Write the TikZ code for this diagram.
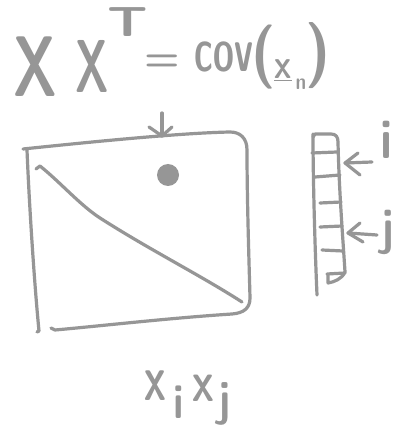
\documentclass[tikz,border=0pt]{standalone}
\usepackage{fontspec}
\newfontfamily\hand{lmsansdemicond10-regular.otf}
\definecolor{ink}{RGB}{150,150,150}
\tikzset{
  pen/.style={draw=ink, line width=3.2pt, line cap=round, line join=round},
  hw/.style={text=ink, inner sep=0pt, font=\hand\fontsize{#1}{#1}\selectfont}
}
\begin{document}
\begin{tikzpicture}[x=1pt,y=-1pt]
\useasboundingbox (0,0) rectangle (405,427);
\fill[white] (0,0) rectangle (405,427);

% title: XX^T = cov(x_n)
\node[hw=86, xscale=.8] (X1) at (35,67) {X};
\node[hw=75, xscale=.7] (X2) at (92,66) {X};
\node[hw=42, xscale=1.5] (T) at (128,22) {T};
\node[hw=40, xscale=1.2] (eq) at (162,63) {=};
\node[hw=61, xscale=.72] (cov) at (224,57) {cov};
\node[hw=66] (lp) at (264,57) {(};
\node[hw=40] (xv) at (283,70) {\underline{x}};
\node[hw=22] (n) at (301,84) {n};
\node[hw=68] (rp) at (318,56) {)};

% matrix box
\draw[pen] (23,149) .. controls (90,142) and (180,133) .. (230,132)
  .. controls (240,132) and (247,138) .. (247,150)
  .. controls (247,200) and (249,260) .. (250,298)
  .. controls (250,308) and (244,313) .. (232,314)
  .. controls (170,318) and (100,326) .. (55,330) -- (51,328);
\draw[pen] (27,150) .. controls (29,200) and (34,280) .. (39,331) -- (37,332);
\draw[pen] (36,169) -- (40,166) .. controls (60,182) and (80,205) .. (100,218)
  .. controls (150,250) and (200,275) .. (242,302);
% arrow into the box
\coordinate (atop) at (162,113);
\coordinate (atip) at (162,136);
\draw[pen] (atop) -- (atip);
\draw[pen] (149,127) -- (atip) -- (172,127);
% dot
\fill[ink] (168,175) circle[radius=11pt];

% vector column
\draw[pen] (313,137) -- (315,134) -- (331,134) .. controls (336,134) and (338,137) .. (338,142)
  .. controls (339,190) and (343,240) .. (345,272)
  .. controls (342,279) and (334,282) .. (328,283) -- (328,275);
\draw[pen] (313,134) .. controls (313,180) and (315,250) .. (317,295);
\draw[pen] (312,153) -- (337,152);
\draw[pen] (315,177) -- (340,175);
\draw[pen] (320,203) -- (341,202);
\draw[pen] (320,227) -- (342,226);
\draw[pen] (322,250) -- (343,251);
\draw[pen] (327,274) -- (345,273);

% arrows with labels i and j
\node[hw=55] (li) at (387,140) {i};
\node[hw=52] (lj) at (388,232) {j};
\coordinate (itip) at (345,163);
\coordinate (jtip) at (348,233);
\draw[pen] (372,162) -- (itip);
\draw[pen] (358,153) -- (itip) -- (360,175);
\draw[pen] (377,235) -- (jtip);
\draw[pen] (360,223) -- (jtip) -- (363,242);

% bottom: x_i x_j
\node[hw=63, xscale=.8] (bx1) at (155,386) {x};
\node[hw=48] (bi) at (179,402) {i};
\node[hw=56, xscale=.9] (bx2) at (203,388) {x};
\node[hw=50] (bj) at (225,404) {j};
\end{tikzpicture}
\end{document}
